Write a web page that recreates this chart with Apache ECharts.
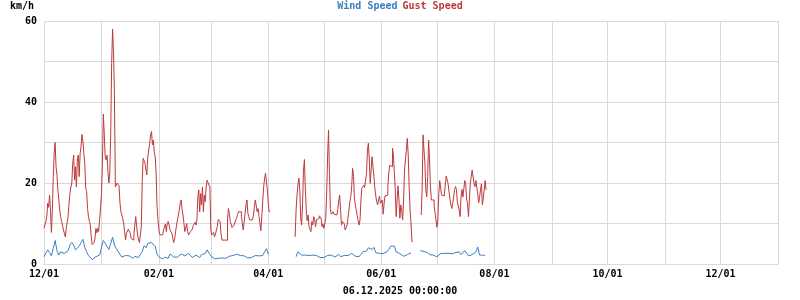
<!DOCTYPE html>
<html>
<head>
<meta charset="utf-8">
<script src="https://cdn.jsdelivr.net/npm/echarts@6/dist/echarts.min.js"></script>
<style>
html,body{margin:0;padding:0;background:#fff;}
#chart{width:800px;height:300px;}
</style>
</head>
<body>
<div id="chart"></div>
<script>
// Time axis: half-day steps from 2024-12-01 00:00 to 2026-01-01 00:00
const startDate = '2024-12-01';
const halfDaySteps = 792;
const tickLabels = ['12/01', '02/01', '04/01', '06/01', '08/01', '10/01', '12/01'];
const yTickLabels = [0, 20, 40, 60];
const unitLabel = 'km/h';
const seriesNames = ['Wind Speed', 'Gust Speed'];
const dateLabel = '06.12.2025 00:00:00';

// Gust speed (km/h), one value per half day from 2024-12-01 00:00
const gustSpeed = [
  8.8, 9.2, 10.5, 11.7, 15, 14, 17, 13.3, 7.8, 13.3,
  21.6, 27.3, 30, 24, 22, 18.3, 15.8, 13.3, 11.7, 10.5,
  9.6, 8.4, 7.6, 6.7, 8.8, 9.2, 11.7, 15, 17.4, 19,
  20, 24.9, 26.9, 20.7, 24, 19, 26, 26.9, 21.6, 27.3,
  29, 32, 30.2, 27.3, 24.9, 18.7, 17.9, 13.7, 11.7, 10.5,
  9.6, 6.7, 4.8, 4.8, 5.3, 6.3, 8.8, 7.7, 8.8, 8,
  10.9, 14, 17.4, 24.3, 37, 32.3, 26.5, 25.7, 26.9, 22.8,
  20, 22.4, 32.3, 49.5, 58, 52.4, 42, 19, 19.5, 20,
  19.8, 19.3, 15, 12.9, 12.5, 11.3, 10, 8, 5.9, 7.6,
  8, 8.6, 8.8, 7.6, 6.3, 5.9, 5.9, 7.2, 9.6, 11.7,
  9.2, 7.2, 5.9, 5.3, 5.5, 9.2, 20.7, 26.1, 25.8, 24.9,
  23.2, 22, 26.5, 26.5, 29.8, 31.9, 32.7, 29.4, 30.6, 27.7,
  26.5, 22.4, 14.2, 10.9, 8.4, 7.2, 6.9, 7.2, 7.6, 8.4,
  8.8, 9.9, 8, 10, 10.5, 9.6, 8.4, 8.8, 7.6, 6.3,
  5.3, 6.3, 8, 9.6, 10.9, 12.1, 13.3, 15, 15.8, 13.5,
  12.1, 10, 8, 7.6, 10, 8, 7.2, 7.6, 8,
  7.6, 8.6, 9.5, 9.9, 10.3, 9.6, 10.9, 16.6, 18.3, 12.9,
  17.4, 14.6, 19, 12.9, 17, 15.4, 19, 20.7, 20.3, 19.5,
  19, 8.4, 7.2, 7.6, 7.8, 6.7, 7.4, 7.2, 9.2, 11,
  11, 10.5, 7.6, 5.9, 5.9, 5.9, 5.9, 5.9, 5.9, 10.9,
  13.7, 12.5, 10.5, 10.5, 9, 9, 9.6, 10, 10.9, 11.5,
  12.3, 12.9, 12.9, 12.9, 11.7, 10, 8.4, 8.8, 12.5, 14.6,
  15.8, 12.5, 11.7, 10.9, 10.5, 10.9, 10.5, 12.1, 14.2, 15.8,
  15.4, 12.9, 13.7, 11.7, 10, 8.2, 8.4, 15.4, 19, 21,
  22.4, 22, 18.3, 15, 12.9,
  null, null, null, null, null, null, null, null, null, null,
  null, null, null, null, null, null, null, null, null, null,
  null, null, null, null, null, null, null,
  6.7, 13.3, 17, 19.5, 21.2, 18.3, 11.3, 9.6, 15, 23.2,
  25.8, 18.3, 13.3, 10.7, 12.1, 9.2, 8.8, 8, 10.5, 9.6,
  11.7, 11, 9.2, 10.9, 10.5, 11.3, 11.9, 11.9, 11.3, 9.2,
  9.9, 8.8, 9.2, 11.3, 17.4, 26.5, 33.1, 22.4, 13.7, 12.3,
  12.1, 12.9, 12.3, 12.5, 12.1, 12.5, 13.5, 15.6,
  17, 13.3, 9.6, 10.5, 10.7, 9.9, 8.4, 8.8, 9.6, 11.3,
  13.3, 15.4, 16.6, 19.1, 23.6, 21.6, 16, 14.6, 13.2, 11.9,
  10.7, 9.6, 10.9, 15.8, 18.7, 19.1, 19.5, 18.9, 19.1, 22.4,
  28.1, 29.8, 25.7, 19.9, 23.2, 26.5, 26.1, 21.6, 18.7, 16.8,
  15.4, 14.6, 15.8, 16.8, 15, 15.4, 15.8, 12.3, 15, 16.8,
  16.6, 17, 19.1, 22.4, 24.4, 24, 24, 28.6, 26.9, 22.8,
  18.3, 11.7, 15.8, 19.3, 15.8, 11.3, 14.6, 13.3, 10.9, 15.8,
  23.2, 25.7, 28.1, 31, 26.9, 19.1, 13.3, 10, 5.5,
  null, null, null, null, null, null, null, null, null,
  12.1, 18.3, 31.9, 28.1, 24.9, 18.3, 16.6, 21.6, 30.6, 25.7,
  19.1, 15.8, 15.8, 15.8, 14.2, 14.6, 10.9, 9.1, 10.9, 17.4,
  20.6, 18.7, 17, 17, 16.8, 17.3, 19.5, 21.7, 21.4, 19.9,
  17.9, 16.2, 14.6, 13.7, 15, 16.5, 18.4, 19.1, 18.4, 15.4,
  15.4, 13.3, 11.7, 16.6, 18.4, 16.5, 16.2, 20.6, 19.9, 16,
  15, 11.7, 15.8, 19.9, 21.7, 23.2, 23.2, 19.9, 19.1, 20.6,
  20.7, 17.3, 15.1, 16.5, 18.3, 19.8, 14.6, 16.2, 18.4, 20.6,
  18.3
];

// Wind speed (km/h), one value per day from 2024-12-01
const windSpeed = [
  1.8, 2.2, 3.5, 2.8, 2, 3.9, 5.8, 3.3, 2.2, 3,
  3.1, 2.6, 2.5, 3.3, 4.7, 5.3, 4.7, 3.5, 3.6, 4.4,
  5.3, 6.1, 4.1, 3, 2.1, 1.7, 1.1, 1.5, 1.8, 2.2,
  2.2, 2.6, 5.8, 5.1, 4.7, 3.6, 5.1, 6.6, 4.7, 3.8,
  3.5, 2.4, 1.7, 2, 2.1, 2.2, 2, 1.6, 1.4, 1.9,
  1.8, 1.6, 1.4, 3.1, 4.5, 4, 5.1, 5.3, 5.3, 5.3,
  4.3, 2.4, 1.8, 1.6, 1.2, 1.7, 2.1, 1.4, 2.5, 2.3,
  1.7, 1.8, 1.7, 2.1, 2.5, 2.9, 2, 2.3, 2.6, 2.2,
  1.6, 1.8, 2.2, 2.1, 1.6, 2.3, 2.5, 2.6, 3.5, 3.2,
  2, 1.6, 1.3, 1.4, 1.4, 1.3, 1.5, 1.6, 1.4, 1.6,
  1.9, 2.1, 2.1, 1.8, 2.4, 2.1, 2.1, 2, 2, 1.6,
  1.5, 1.4, 1.6, 1.9, 2.1, 2.3, 2, 1.6, 2.1, 3,
  3.8, 2.4,
  null, null, null, null, null, null, null, null, null, null,
  null, null, null, null,
  1.8, 3, 2.6, 2.2, 2.1, 2.2, 1.9, 2.1, 2, 2.2,
  1.9, 2.1, 2, 1.6, 1.4, 1.6, 1.6, 2.1, 2.2, 2.2,
  2, 1.7, 2, 2.4,
  1.8, 2.1, 2.1, 1.7, 2.1, 2.3, 2.6, 2.2, 1.9, 1.6,
  1.8, 2.4, 3, 2.7, 3.2, 4, 3.6, 3.6, 4.1, 2.8,
  2.9, 2.6, 2.4, 2.6, 2.7, 3, 3.6, 4.4, 4.6, 4.4,
  3, 2.8, 2.6, 2.2, 1.9, 2.2, 2.3, 2.6, 2.8,
  null, null, null, null,
  3.3, 3.5, 3.1, 3, 2.8, 2.3, 2.6, 2.2, 1.9, 1.8,
  2.2, 2.6, 2.3, 2.6, 2.4, 2.7, 2.6, 2.5, 2.6, 2.8,
  2.9, 3, 2.3, 2.6, 3.3, 3.1, 2, 2.2, 2.3, 2.2,
  3, 4.2, 2.2, 2.2, 2.2, 2
];

// Build half-day category list
function pad(n) { return (n < 10 ? '0' : '') + n; }
const categories = [];
const t0 = Date.parse(startDate + 'T00:00:00Z');
for (let i = 0; i <= halfDaySteps; i++) {
  const d = new Date(t0 + i * 12 * 3600 * 1000);
  categories.push(d.getUTCFullYear() + '-' + pad(d.getUTCMonth() + 1) + '-' + pad(d.getUTCDate()) + ' ' + pad(d.getUTCHours()) + ':00');
}
function mmdd(v) { return v.slice(5, 7) + '/' + v.slice(8, 10); }
function isMonthStart(v) { return v.slice(8, 10) === '01' && v.slice(11, 13) === '00'; }

const gustData = gustSpeed.map(v => v == null ? '-' : v);
const windData = windSpeed.map((v, i) => [i * 2, v == null ? '-' : v]);

const FONT = "'DejaVu Sans Mono', monospace";
const BLUE = '#3a7fc1';
const RED = '#bd393c';
const GRID = '#d9d9d9';

const chart = echarts.init(document.getElementById('chart'), null, { renderer: 'canvas' });
chart.setOption({
  animation: false,
  backgroundColor: '#ffffff',
  title: [
    { text: unitLabel, left: 10, top: 0, padding: 0, textStyle: { fontFamily: FONT, fontSize: 10, fontWeight: 'bold', color: '#000', lineHeight: 12 } },
    {
      text: '{a|' + seriesNames[0] + '} {b|' + seriesNames[1] + '}',
      left: 'center', top: 0, padding: 0,
      textStyle: {
        lineHeight: 12,
        rich: {
          a: { fontFamily: FONT, fontSize: 10, fontWeight: 'bold', color: BLUE, lineHeight: 12 },
          b: { fontFamily: FONT, fontSize: 10, fontWeight: 'bold', color: RED, lineHeight: 12 }
        }
      }
    },
    { text: dateLabel, left: 'center', top: 285, padding: 0, textStyle: { fontFamily: FONT, fontSize: 10, fontWeight: 'bold', color: '#000', lineHeight: 12 } }
  ],
  grid: { left: 44, right: 22, top: 21, bottom: 36, containLabel: false },
  xAxis: {
    type: 'category',
    data: categories,
    boundaryGap: false,
    axisLine: { show: true, lineStyle: { color: GRID, width: 1 } },
    axisTick: { show: false },
    splitLine: {
      show: true,
      interval: (idx, v) => isMonthStart(v),
      lineStyle: { color: GRID, width: 1 }
    },
    axisLabel: {
      interval: (idx, v) => isMonthStart(v) && tickLabels.indexOf(mmdd(v)) >= 0,
      formatter: v => mmdd(v),
      fontFamily: FONT, fontSize: 10, fontWeight: 'bold', color: '#000', margin: 5
    }
  },
  yAxis: {
    type: 'value',
    min: 0, max: 60, interval: 10,
    axisLine: { show: false },
    axisTick: { show: false },
    splitLine: { show: true, lineStyle: { color: GRID, width: 1 } },
    axisLabel: {
      formatter: v => yTickLabels.indexOf(v) >= 0 ? String(v) : '',
      fontFamily: FONT, fontSize: 10, fontWeight: 'bold', color: '#000', margin: 7
    }
  },
  series: [
    {
      name: seriesNames[1], type: 'line', data: gustData, step: 'end',
      showSymbol: false, connectNulls: false,
      lineStyle: { color: RED, width: 1 }, itemStyle: { color: RED }
    },
    {
      name: seriesNames[0], type: 'line', data: windData,
      showSymbol: false, connectNulls: false,
      lineStyle: { color: BLUE, width: 1 }, itemStyle: { color: BLUE }
    }
  ]
});
</script>
</body>
</html>
